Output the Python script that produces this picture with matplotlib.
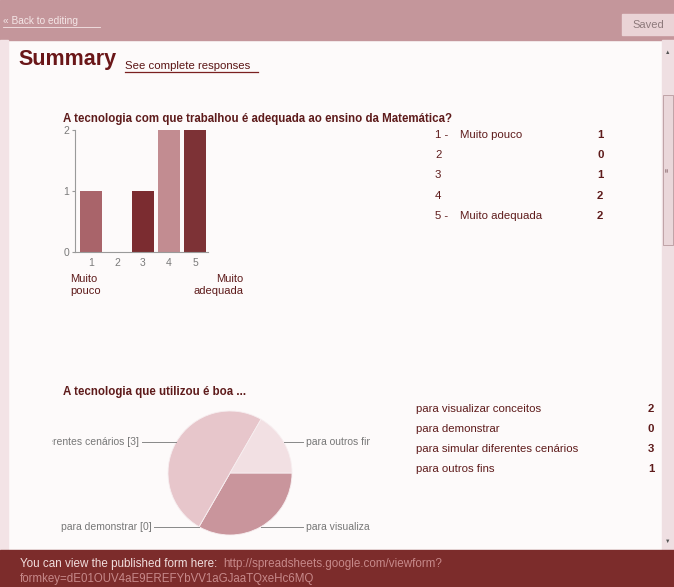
import numpy as np
import matplotlib
matplotlib.use('Agg')
import matplotlib.pyplot as plt
from matplotlib.patches import Rectangle

plt.rcParams['font.family'] = ['Liberation Sans', 'DejaVu Sans']

# data
q1_title = 'A tecnologia com que trabalhou é adequada ao ensino da Matemática?'
q1_scale = [1, 2, 3, 4, 5]
q1_counts = [1, 0, 1, 2, 2]
q1_names = ['Muito pouco', '', '', '', 'Muito adequada']

q2_title = 'A tecnologia que utilizou é boa ...'
q2_options = ['para visualizar conceitos', 'para demonstrar',
              'para simular diferentes cenários', 'para outros fins']
q2_counts = [2, 0, 3, 1]

form_url = 'http://spreadsheets.google.com/viewform?'
form_key = 'formkey=dE01OUV4aE9EREFYbVV1aGJaaTQxeHc6MQ'

W, H = 674, 587
maroon = '#5e1b1b'
bar_colors = ['#a9646a', '#a9646a', '#7b2c30', '#c28c91', '#7d3236']
pie_colors = ['#c9959c', '#c9959c', '#e7c6cb', '#f2e0e3']
label_reach = [1.18, 1.23, 1.42, 1.18]


def px_rect(x0, y0, x1, y1):
    return [x0 / W, 1 - y1 / H, (x1 - x0) / W, (y1 - y0) / H]


fig = plt.figure(figsize=(W / 100, H / 100), dpi=100)
fig.patch.set_facecolor('#fdfafa')

bg = fig.add_axes([0, 0, 1, 1])
bg.set_xlim(0, W)
bg.set_ylim(H, 0)
bg.axis('off')

# page chrome
bg.add_patch(Rectangle((0, 0), W, 40, color='#c4969b', zorder=1))
bg.add_patch(Rectangle((0, 40), 8, 510, color='#f3e3e6', zorder=1))
bg.add_patch(Rectangle((662, 40), 12, 510, color='#efdfe2', zorder=1))
bg.add_patch(Rectangle((663, 95), 10, 150, facecolor='#ead7da',
                       edgecolor='#b89a9e', lw=0.6, zorder=2))
bg.text(668, 52, '▲', fontsize=4, color='#555555', ha='center', va='center', zorder=3)
bg.text(668, 541, '▼', fontsize=4, color='#555555', ha='center', va='center', zorder=3)
bg.text(668, 170, '≡', fontsize=5, color='#8a6a6e', ha='center', va='center',
        rotation=90, zorder=3)
bg.add_patch(Rectangle((0, 550), W, 37, color='#7c2c2b', zorder=1))
bg.add_patch(Rectangle((622, 14), 52, 21, color='#ead3d6', zorder=2))

bg.text(3, 21, '« Back to editing', fontsize=7.3, color='#f4e6e7', va='center', zorder=3)
bg.plot([3, 100], [26.5, 26.5], color='#f4e6e7', lw=0.6, zorder=3)
bg.text(648, 25, 'Saved', fontsize=8, color='#8e7a7c', ha='center', va='center', zorder=3)

bg.text(18, 59, 'Summary', fontsize=15.5, fontweight='bold', color='#6a1618',
        va='center', zorder=3)
bg.text(125, 66, 'See complete responses', fontsize=8.2, color='#5a1414',
        va='center', zorder=3)
bg.plot([125, 258], [72, 72], color='#7a2020', lw=0.9, zorder=3)

bg.text(20, 564, 'You can view the published form here:', fontsize=8.4,
        color='#f1dede', va='center', zorder=3)
bg.text(223, 564, form_url, fontsize=8.4, color='#c7898a', va='center', zorder=3)
bg.text(20, 579, form_key, fontsize=8.3, color='#c7898a', va='center', zorder=3)

# question 1
bg.text(63, 119, q1_title, fontsize=8.3, fontweight='bold', color=maroon,
        va='center', zorder=3)

row_y = [135, 155, 175, 196, 216]
for y, s, name, c in zip(row_y, q1_scale, q1_names, q1_counts):
    label = f'{s} -' if name else f'{s}'
    bg.text(435, y, label, fontsize=8.2, color=maroon, va='center', zorder=3)
    bg.text(460, y, name, fontsize=8.2, color=maroon, va='center', zorder=3)
    bg.text(597, y, str(c), fontsize=8.2, fontweight='bold', color=maroon,
            va='center', zorder=3)

ax = fig.add_axes(px_rect(75, 130, 208, 252))
ax.bar(q1_scale, q1_counts, width=0.85, color=bar_colors, zorder=2)
ax.set_xlim(0.385, 5.5)
ax.set_ylim(0, 2)
ax.set_facecolor('none')
ax.set_xticks(q1_scale)
ax.set_yticks([0, 1, 2])
for side in ['top', 'right']:
    ax.spines[side].set_visible(False)
for side in ['left', 'bottom']:
    ax.spines[side].set_color('#9a9a9a')
    ax.spines[side].set_linewidth(0.8)
ax.tick_params(axis='x', length=0, labelsize=7.5, labelcolor='#7a7a7a', pad=4)
ax.tick_params(axis='y', length=2, color='#9a9a9a', labelsize=7.5,
               labelcolor='#7a7a7a', pad=2)

bg.text(70, 285, 'Muito\npouco', fontsize=8, color=maroon, va='center',
        linespacing=1.25, zorder=3)
bg.text(243, 285, 'Muito\nadequada', fontsize=8, color=maroon, va='center',
        ha='right', multialignment='right', linespacing=1.25, zorder=3)

# question 2
bg.text(63, 392, q2_title, fontsize=8.3, fontweight='bold', color=maroon,
        va='center', zorder=3)

opt_y = [409, 429, 449, 469]
for y, name, c in zip(opt_y, q2_options, q2_counts):
    bg.text(416, y, name, fontsize=8.2, color=maroon, va='center', zorder=3)
    bg.text(648, y, str(c), fontsize=8.2, fontweight='bold', color=maroon,
            va='center', zorder=3)

r = 62.0
cx, cy = 230, 473
x0, x1, y0, y1 = 52, 370, 400, 545
pax = fig.add_axes(px_rect(x0, y0, x1, y1))
wedges, _ = pax.pie(q2_counts, colors=pie_colors, startangle=0, counterclock=False,
                    radius=1, center=(0, 0), frame=True,
                    wedgeprops=dict(edgecolor='#f7eef0', linewidth=0.6))
pax.set_xlim(-(cx - x0) / r, (x1 - cx) / r)
pax.set_ylim(-(y1 - cy) / r, (cy - y0) / r)
pax.set_aspect('auto')
pax.axis('off')

# leader lines and labels, clipped to the chart area like the original
for w, name, c, reach in zip(wedges, q2_options, q2_counts, label_reach):
    mid = np.deg2rad((w.theta1 + w.theta2) / 2)
    ax_x, ax_y = np.cos(mid), np.sin(mid)
    side = 1 if ax_x >= 0 else -1
    end = side * reach
    pax.plot([ax_x, end], [ax_y, ax_y], color='#888888', lw=0.7)
    pax.text(end + side * 0.04, ax_y, f'{name} [{c}]', fontsize=7.5,
             color='#777777', va='center', ha='left' if side > 0 else 'right',
             clip_on=True)

fig.savefig('out.png', dpi=100)
